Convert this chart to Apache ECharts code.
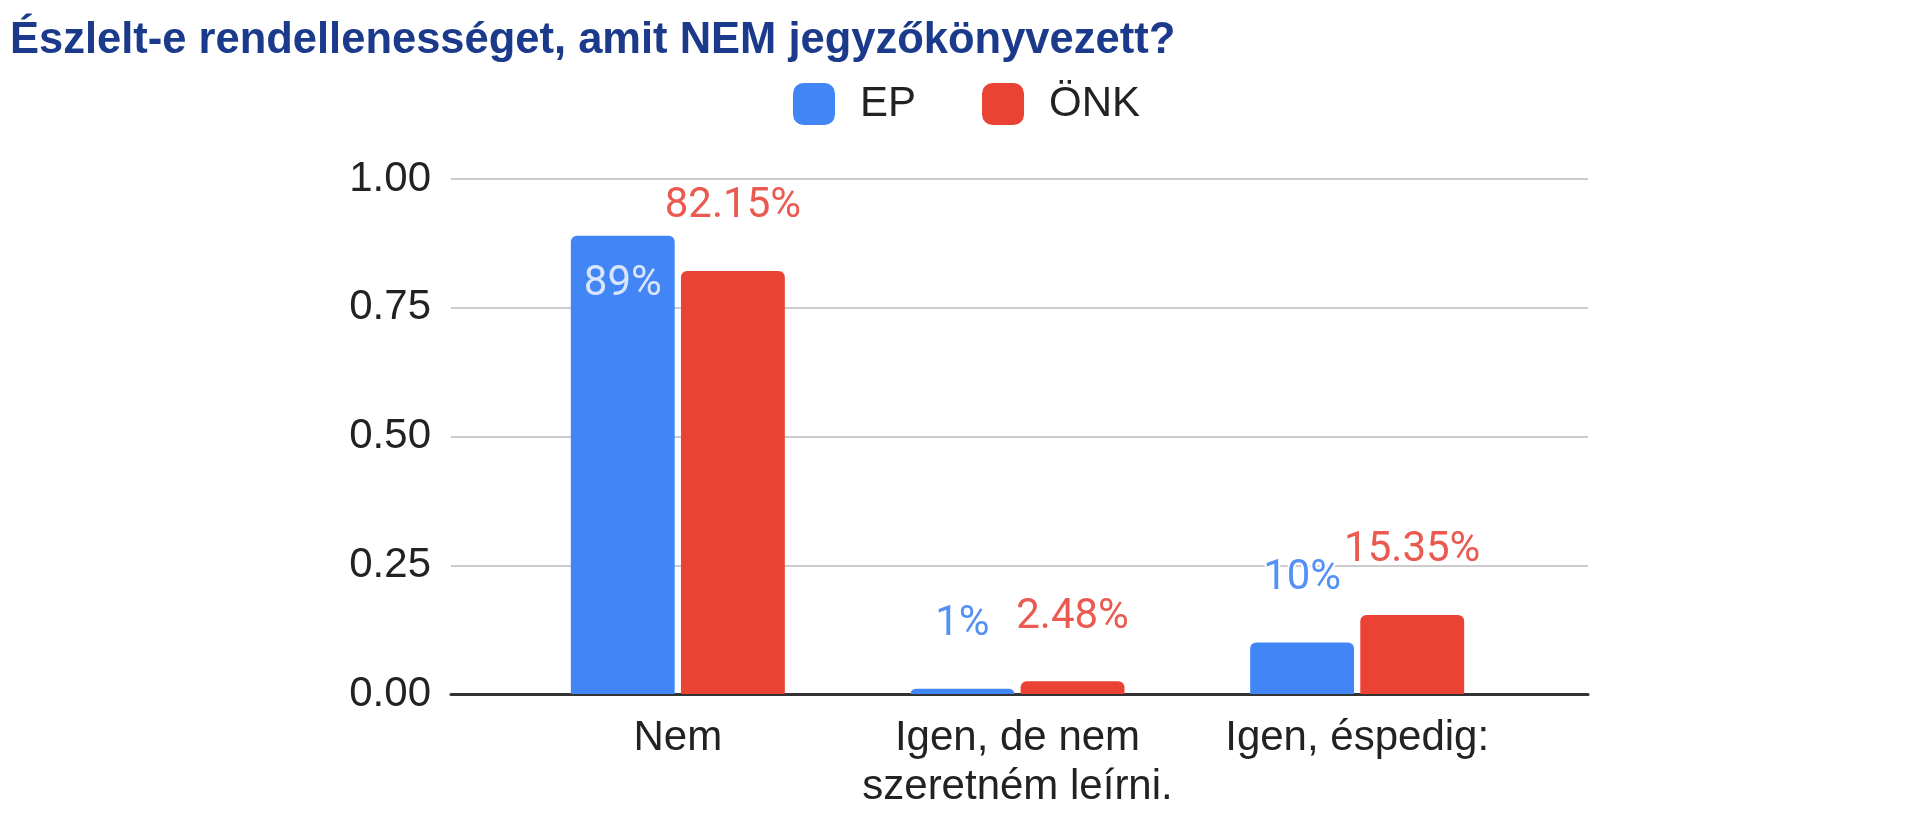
<!DOCTYPE html>
<html>
<head>
    <meta charset="utf-8">
    <title>Észlelt-e rendellenességet</title>
    <script src="https://cdn.jsdelivr.net/npm/echarts@6/dist/echarts.min.js"></script>
    <style>
        html, body { margin: 0; padding: 0; background: #fff; }
        #chart1 { width: 1920px; height: 815px; }
    </style>
</head>
<body>
<div id="chart1"></div>
<script type="text/javascript">
    // adatok
    var categories = ['Nem', 'Igen, de nem\nszeretném leírni.', 'Igen, éspedig:'];
    var epValues = [0.89, 0.01, 0.10];
    var onkValues = [0.8215, 0.0248, 0.1535];
    var yTicks = [0, 0.25, 0.5, 0.75, 1];

    var font = "Arial, 'Liberation Sans', sans-serif";
    var blue = '#4285f4';
    var red = '#ea4335';

    var myChart1 = echarts.init(document.getElementById('chart1'));

    // az első EP oszlop felirata az oszlopon belül van
    var epData = epValues.map(function (v, i) {
        if (i === 0) {
            return {
                value: v,
                label: {position: 'insideTop', distance: 28, color: '#d8e5fd', textBorderWidth: 0}
            };
        }
        return v;
    });

    myChart1.setOption({
        animation: false,
        title: {
            text: 'Észlelt-e rendellenességet, amit NEM jegyzőkönyvezett?',
            left: 10,
            top: 19,
            padding: 0,
            textStyle: {fontFamily: font, fontSize: 43.5, fontWeight: 'bold', color: '#1b3a8c'}
        },
        legend: {
            data: ['EP', 'ÖNK'],
            left: 793,
            top: 83,
            padding: 0,
            itemWidth: 42,
            itemHeight: 42,
            itemGap: 66,
            icon: 'roundRect',
            textStyle: {fontFamily: font, fontSize: 42, color: '#222', padding: [0, 0, 0, 20]}
        },
        grid: [
            {left: 451, right: 332, top: 179, bottom: 121},
            {left: 508, right: 393, top: 179, bottom: 121}
        ],
        xAxis: [
            {
                type: 'category', gridIndex: 0, data: categories,
                axisLine: {lineStyle: {color: '#333', width: 3}},
                axisTick: {show: false}, axisLabel: {show: false}
            },
            {
                type: 'category', gridIndex: 1, data: categories,
                axisLine: {show: false}, axisTick: {show: false},
                axisLabel: {interval: 0, fontFamily: font, fontSize: 42, lineHeight: 49, color: '#222', margin: 20}
            }
        ],
        yAxis: [
            {
                type: 'value', gridIndex: 0, min: yTicks[0], max: yTicks[yTicks.length - 1], interval: 0.25,
                axisLine: {show: false}, axisTick: {show: false},
                axisLabel: {
                    fontFamily: font, fontSize: 42, color: '#222', margin: 20,
                    formatter: function (v) { return v.toFixed(2); }
                },
                splitLine: {lineStyle: {color: '#cccccc', width: 2}}
            },
            {
                type: 'value', gridIndex: 1, min: yTicks[0], max: yTicks[yTicks.length - 1], interval: 0.25,
                show: false, splitLine: {show: false}
            }
        ],
        series: [
            {
                name: 'EP',
                type: 'bar',
                xAxisIndex: 1,
                yAxisIndex: 1,
                data: epData,
                barCategoryGap: '37%',
                barGap: '6%',
                itemStyle: {color: blue, borderRadius: [6, 6, 0, 0]},
                label: {
                    show: true, position: 'top', distance: 43,
                    fontFamily: "Roboto, Arial, sans-serif", fontSize: 42, color: '#5591f5',
                    textBorderColor: '#fff', textBorderWidth: 4,
                    formatter: function (p) { return Math.round(p.value * 100) + '%'; }
                }
            },
            {
                name: 'ÖNK',
                type: 'bar',
                xAxisIndex: 1,
                yAxisIndex: 1,
                data: onkValues,
                barCategoryGap: '37%',
                barGap: '6%',
                itemStyle: {color: red, borderRadius: [6, 6, 0, 0]},
                label: {
                    show: true, position: 'top', distance: 43,
                    fontFamily: "Roboto, Arial, sans-serif", fontSize: 42, color: '#eb5a50',
                    textBorderColor: '#fff', textBorderWidth: 4,
                    formatter: function (p) { return (p.value * 100).toFixed(2) + '%'; }
                }
            }
        ]
    });
</script>
</body>
</html>
